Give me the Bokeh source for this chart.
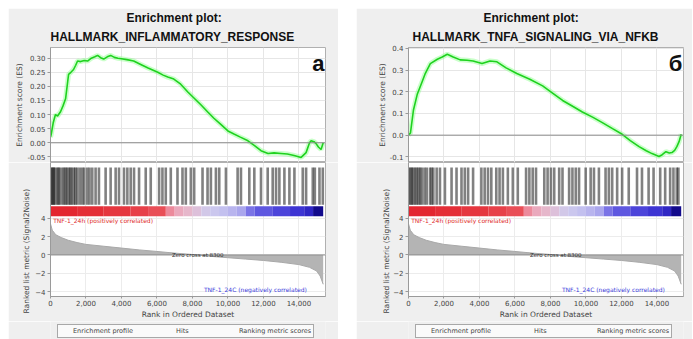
from bokeh.plotting import figure
from bokeh.layouts import column, row
from bokeh.models import (Range1d, FixedTicker, NumeralTickFormatter, PrintfTickFormatter,
                          Span, Label, Title, Legend, LegendItem, Spacer)
from bokeh.embed import file_html
from bokeh.resources import INLINE

# ---------------- data ----------------
x_ticks = [0, 2000, 4000, 6000, 8000, 10000, 12000, 14000]

# panel а : HALLMARK_INFLAMMATORY_RESPONSE
es_a_rank = [0, 40, 150, 280, 400, 565, 700, 850, 1020, 1150, 1300, 1420, 1525, 1700, 1900, 2090,
             2300, 2500, 2655, 2825, 3000, 3200, 3390, 3600, 3800, 4000, 4300, 4690, 5085, 5500,
             6045, 6350, 6610, 6950, 7300, 7740, 8100, 8475, 8850, 9210, 9600, 10000, 10340, 10700,
             11130, 11500, 11865, 12260, 12600, 12995, 13350, 13730, 14125, 14405, 14600, 14690,
             14850, 14970, 15100, 15250, 15370]
es_a = [0.02, 0.03, 0.07, 0.10, 0.095, 0.11, 0.13, 0.156, 0.243, 0.25, 0.26, 0.275, 0.29, 0.288,
        0.292, 0.29, 0.30, 0.305, 0.31, 0.302, 0.297, 0.305, 0.31, 0.303, 0.30, 0.298, 0.295, 0.29,
        0.278, 0.265, 0.25, 0.24, 0.233, 0.226, 0.21, 0.18, 0.158, 0.135, 0.11, 0.087, 0.065, 0.042,
        0.031, 0.02, 0.007, -0.01, -0.028, -0.038, -0.036, -0.038, -0.04, -0.045, -0.052, -0.035,
        0.0, 0.007, 0.004, -0.003, -0.015, -0.024, 0.0]
hits_a = [20, 94, 150, 188, 260, 377, 450, 520, 659, 760, 848, 930, 1036, 1120, 1200, 1318, 1400,
          1507, 1650, 1789, 1900, 2072, 2200, 2354, 2542, 2731, 3107, 3390, 3672, 3861, 4143, 4332,
          4520, 4708, 4991, 5367, 5650, 6121, 6309, 6497, 6780, 7157, 7439, 7627, 7910, 8098, 8569,
          8852, 9040, 9323, 9511, 9888, 10547, 10735, 11206, 11488, 11865, 12242, 12524, 12712,
          12900, 13183, 13465, 13748, 14218, 14407, 14783, 14900, 15160, 15348]
es_a_ticks = [-0.05, 0.0, 0.05, 0.10, 0.15, 0.20, 0.25, 0.30]

# panel б : HALLMARK_TNFA_SIGNALING_VIA_NFKB
es_b_rank = [0, 110, 280, 500, 785, 950, 1230, 1625, 1900, 2185, 2520, 2915, 3300, 3640, 4145, 4595,
             4985, 5500, 6105, 6835, 7560, 8100, 8685, 9250, 9800, 10400, 10925, 11500, 12045, 12500,
             12995, 13400, 13725, 14120, 14300, 14510, 14700, 14850, 15000, 15125, 15250, 15370]
es_b = [0.0, 0.01, 0.116, 0.19, 0.25, 0.285, 0.33, 0.35, 0.36, 0.373, 0.36, 0.347, 0.345, 0.342,
        0.33, 0.342, 0.338, 0.31, 0.284, 0.258, 0.227, 0.195, 0.16, 0.133, 0.107, 0.082, 0.058,
        0.03, 0.004, -0.025, -0.053, -0.072, -0.085, -0.098, -0.09, -0.076, -0.082, -0.08, -0.07,
        -0.053, -0.03, 0.004]
hits_b = [30, 120, 187, 270, 373, 460, 560, 650, 747, 900, 1027, 1213, 1300, 1400, 1587, 1773, 2053,
          2427, 2707, 2987, 3173, 3360, 3640, 4107, 4293, 4480, 4667, 4947, 5133, 5320, 5600, 5880,
          6160, 6627, 6813, 7000, 7187, 7653, 7840, 8027, 8213, 8493, 8680, 9053, 9240, 9427, 9613,
          9987, 10267, 10453, 10733, 11107, 11293, 11480, 11760, 12040, 12413, 12880, 13160, 13533,
          13813, 14187, 14467, 14747, 14933, 15120, 15213]
es_b_ticks = [-0.1, 0.0, 0.1, 0.2, 0.3, 0.4]

# ranked list metric (same ordered dataset in both panels)
metric_rank = [0, 100, 300, 600, 1000, 1500, 2000, 3000, 4000, 5000, 6000, 7000, 8000, 8300, 9000,
               10000, 11000, 12000, 13000, 14000, 14600, 15000, 15200, 15370]
metric = [3.4, 2.7, 2.2, 1.9, 1.6, 1.35, 1.15, 0.95, 0.75, 0.55, 0.38, 0.2, 0.05, 0.0, -0.15, -0.3,
          -0.45, -0.6, -0.8, -1.05, -1.35, -1.75, -2.3, -3.2]
metric_ticks = [-4, -2, 0, 2, 4]
zero_cross = 8300

# colour bar of the ranked list
band_edges = [0, 1500, 3000, 4500, 5500, 6500, 7000, 7500, 8000, 8500, 9000, 9500, 10000, 10500,
              11000, 11500, 12500, 13500, 14300, 14800, 15370]
band_colors = ["#e32630", "#e42e37", "#e5363f", "#e74049", "#e94e57", "#ec8a9c", "#eaa9bd",
               "#e6b7cb", "#ddc0da", "#d2c8e8", "#cbc7ee", "#c3c0ef", "#b8b4ee", "#aaa6ed",
               "#7a73e6", "#5e57e0", "#4c44da", "#3d34d3", "#2f26c4", "#120a8c"]

pos_label = "TNF-1_24h (positively correlated)"
neg_label = "TNF-1_24C (negatively correlated)"
legend_labels = ["Enrichment profile", "Hits", "Ranking metric scores"]
es_axis_label = "Enrichment score (ES)"
metric_axis_label = "Ranked list metric (Signal2Noise)"
x_axis_label = "Rank in Ordered Dataset"

# ---------------- style ----------------
BG = "#efefef"
FONT = "DejaVu Sans"
TFONT = "Liberation Sans"
X_END = 15500
GREEN = "#1ed21e"
AXC = "#444444"


def style_axis(ax):
    ax.major_label_text_font = FONT
    ax.major_label_text_font_size = "7px"
    ax.major_label_text_color = AXC
    ax.axis_label_text_font = FONT
    ax.axis_label_text_font_size = "7.5px"
    ax.axis_label_text_font_style = "normal"
    ax.axis_label_text_color = AXC
    ax.axis_line_color = "#9a9a9a"
    ax.major_tick_line_color = "#9a9a9a"
    ax.minor_tick_line_color = None
    ax.major_tick_out = 3
    ax.major_tick_in = 0
    ax.major_label_standoff = 2
    ax.axis_label_standoff = 3


def base_fig(W, H, xr, yr, bl, br, bt, bb):
    return figure(width=W, height=H, x_range=xr, y_range=yr,
                  output_backend="svg", toolbar_location=None,
                  min_border_left=bl, min_border_right=br, min_border_top=bt,
                  min_border_bottom=bb, border_fill_color=BG, background_fill_color="white",
                  outline_line_color="#b0b0b0")


def make_panel(t1, t2, off1, off2, es_rank, es_vals, hits, es_range, es_ticks, es_fmt,
               letter, letter_y, ylab_standoff, bl, br):
    W = bl + 275 + br
    xr = Range1d(0, X_END)

    # ---- enrichment score plot
    p1 = base_fig(W, 154, xr, Range1d(*es_range), bl, br, 37, 0)
    p1.add_layout(Title(text=t2, align="left", offset=off2, text_font=TFONT,
                        text_font_size="12px", text_font_style="bold", text_color="#111111",
                        text_line_height=0.85, standoff=7), "above")
    p1.add_layout(Title(text=t1, align="left", offset=off1, text_font=TFONT,
                        text_font_size="12px", text_font_style="bold", text_color="#111111",
                        text_line_height=0.85, standoff=0), "above")
    p1.xaxis.visible = False
    p1.yaxis.ticker = FixedTicker(ticks=es_ticks)
    p1.yaxis.formatter = PrintfTickFormatter(format=es_fmt)
    p1.yaxis.axis_label = es_axis_label
    style_axis(p1.yaxis[0])
    p1.yaxis.axis_label_standoff = 0
    p1.xgrid.ticker = FixedTicker(ticks=x_ticks)
    p1.grid.grid_line_color = "#e6e6e6"
    p1.add_layout(Span(location=0, dimension="width", line_color="#8c8c8c", line_width=1))
    p1.line(es_rank, es_vals, line_color="#8cff8c", line_width=5, line_alpha=0.45)
    p1.line(es_rank, es_vals, line_color=GREEN, line_width=1.6)
    p1.add_layout(Label(x=X_END - 60, y=letter_y, text=letter, text_align="right",
                        text_baseline="alphabetic", text_font=TFONT, text_font_size="22px",
                        text_font_style="bold", text_color="#111111"))

    # ---- hits + colour bar (top 56 px) and ranked list metric (bottom 81 px)
    p2 = base_fig(W, 159, xr, Range1d(-4.53, 10.08), bl, br, 0, 22)
    p2.extra_y_ranges = {"hits": Range1d(-1.446, 1)}
    p2.segment(x0=hits, x1=hits, y0=[0.23] * len(hits), y1=[0.91] * len(hits),
               line_color="#1a1a1a", line_width=2.6, line_alpha=0.55, y_range_name="hits")
    p2.quad(left=band_edges[:-1], right=band_edges[1:], bottom=0.02, top=0.2,
            fill_color=band_colors, line_color=None, y_range_name="hits")
    p2.xaxis.ticker = FixedTicker(ticks=x_ticks)
    p2.xaxis.formatter = NumeralTickFormatter(format="0,0")
    p2.xaxis.axis_label = x_axis_label
    p2.yaxis.ticker = FixedTicker(ticks=metric_ticks)
    style_axis(p2.xaxis[0])
    style_axis(p2.yaxis[0])
    p2.xaxis.major_label_standoff = 1
    p2.xaxis.axis_label_standoff = 1
    p2.xaxis.major_tick_out = 2
    p2.add_layout(Title(text=metric_axis_label, align="left", offset=-17,
                        text_font=FONT, text_font_size="7.5px", text_font_style="normal",
                        text_color=AXC, standoff=ylab_standoff), "left")
    p2.grid.grid_line_color = "#ececec"
    p2.xgrid.ticker = FixedTicker(ticks=x_ticks)
    p2.varea(x=metric_rank, y1=[0] * len(metric), y2=metric, fill_color="#b4b4b4")
    p2.line(metric_rank, metric, line_color="#a8a8a8", line_width=1)
    p2.add_layout(Span(location=0, dimension="width", line_color="#8c8c8c", line_width=1))
    p2.add_layout(Label(x=150, y=3.75, text=pos_label, text_baseline="middle",
                        text_font=FONT, text_font_size="6px", text_color="#e02a2a"))
    p2.add_layout(Label(x=zero_cross, y=0, text="Zero cross at %d" % zero_cross,
                        text_align="center", text_baseline="middle", text_font=FONT,
                        text_font_size="5.5px", text_color="#333333"))
    p2.add_layout(Label(x=14450, y=-3.8, text=neg_label, text_align="right",
                        text_baseline="middle", text_font=FONT, text_font_size="6px",
                        text_color="#3c3cdc"))

    # ---- legend strip
    p4 = figure(width=W, height=18, x_range=Range1d(0, 1), y_range=Range1d(0, 1),
                output_backend="svg", toolbar_location=None,
                min_border_left=bl, min_border_right=br, min_border_top=0, min_border_bottom=0,
                border_fill_color=BG, background_fill_color=BG, outline_line_color=None)
    p4.axis.visible = False
    p4.grid.visible = False
    r_es = p4.line([], [], line_color=GREEN, line_width=1.6)
    r_hit = p4.line([], [], line_color="black", line_width=1)
    r_met = p4.line([], [], line_color="#a8a8a8", line_width=1)
    legend = Legend(items=[LegendItem(label=legend_labels[0], renderers=[r_es]),
                           LegendItem(label=legend_labels[1], renderers=[r_hit]),
                           LegendItem(label=legend_labels[2], renderers=[r_met])],
                    orientation="horizontal", location=(7, 1),
                    label_text_font=FONT, label_text_font_size="6.5px",
                    label_height=8, glyph_height=8, glyph_width=10, spacing=30,
                    padding=2, margin=0, label_standoff=3,
                    border_line_color="#555555", background_fill_color="#fafafa")
    p4.add_layout(legend)
    return column(p1, p2, p4, spacing=0)


left = make_panel("Enrichment plot:", "HALLMARK_INFLAMMATORY_RESPONSE", 76, 0,
                  es_a_rank, es_a, hits_a, (-0.070, 0.338), es_a_ticks, "%.2f",
                  "а", 0.28, 4, 42, 13)
right = make_panel("Enrichment plot:", "HALLMARK_TNFA_SIGNALING_VIA_NFKB", 75, 4,
                   es_b_rank, es_b, hits_b, (-0.126, 0.404), es_b_ticks, "%.1f",
                   "б", 0.33, 0, 52, 9)

layout = column(Spacer(height=8),
                row(Spacer(width=8), left, Spacer(width=18), right, spacing=0), spacing=0)
open("out.html", "w").write(file_html(layout, INLINE))
